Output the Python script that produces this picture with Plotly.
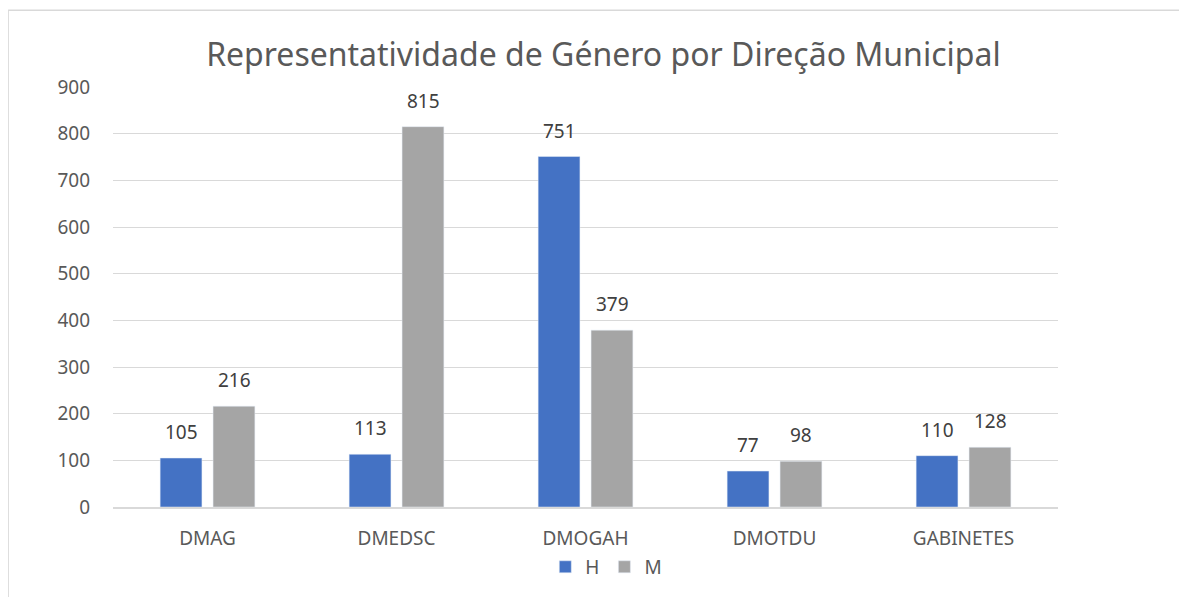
import plotly.graph_objects as go

categories = ["DMAG", "DMEDSC", "DMOGAH", "DMOTDU", "GABINETES"]
h_values = [105, 113, 751, 77, 110]
m_values = [216, 815, 379, 98, 128]
y_ticks = [0, 100, 200, 300, 400, 500, 600, 700, 800, 900]

FONT = "Noto Sans"
fig = go.Figure()
fig.add_trace(go.Bar(name="H", x=categories, y=h_values, marker_color="#4472C4"))
fig.add_trace(go.Bar(name="M", x=categories, y=m_values, marker_color="#A5A5A5"))

annotations = []
for series, shift in ((h_values, -26.5), (m_values, 26.5)):
    for cat, val in zip(categories, series):
        annotations.append(dict(x=cat, y=val, xref="x", yref="y", text=str(val),
                                showarrow=False, xshift=shift, yshift=26,
                                yanchor="middle", xanchor="center",
                                font=dict(size=19, color="#404040", family=FONT)))

fig.update_layout(
    width=1179, height=589,
    paper_bgcolor="white", plot_bgcolor="white",
    margin=dict(l=105, r=129, t=79, b=89),
    barmode="group", bargap=0.44, bargroupgap=0.21,
    font=dict(family=FONT, color="#595959", size=18),
    title=dict(text="Representatividade de Género por Direção Municipal",
               x=0.505, xanchor="center", y=0.92, yanchor="middle",
               font=dict(size=32, color="#595959", family=FONT)),
    legend=dict(orientation="h", x=0.522, xanchor="center", y=-0.14, yanchor="middle",
                font=dict(size=19, color="#595959"), itemwidth=30, traceorder="normal"),
    annotations=annotations,
    xaxis=dict(showline=True, linecolor="#D9D9D9", linewidth=2, ticks="",
               ticklabelstandoff=13,
               tickfont=dict(size=19, color="#595959")),
    yaxis=dict(range=[0, 900], tickvals=y_ticks, showgrid=True, gridcolor="#D9D9D9",
               gridwidth=1.3, zeroline=False, ticks="", ticklabelstandoff=22,
               tickfont=dict(size=19, color="#595959")),
    shapes=[
        dict(type="line", xref="paper", yref="paper", x0=-0.111, x1=1.2, y0=1.183, y1=1.183,
             line=dict(color="#D9D9D9", width=1.5)),
        dict(type="line", xref="paper", yref="paper", x0=-0.111, x1=-0.111, y0=1.183, y1=-0.3,
             line=dict(color="#D9D9D9", width=1.5)),
    ],
)
fig.write_html("out.html")
